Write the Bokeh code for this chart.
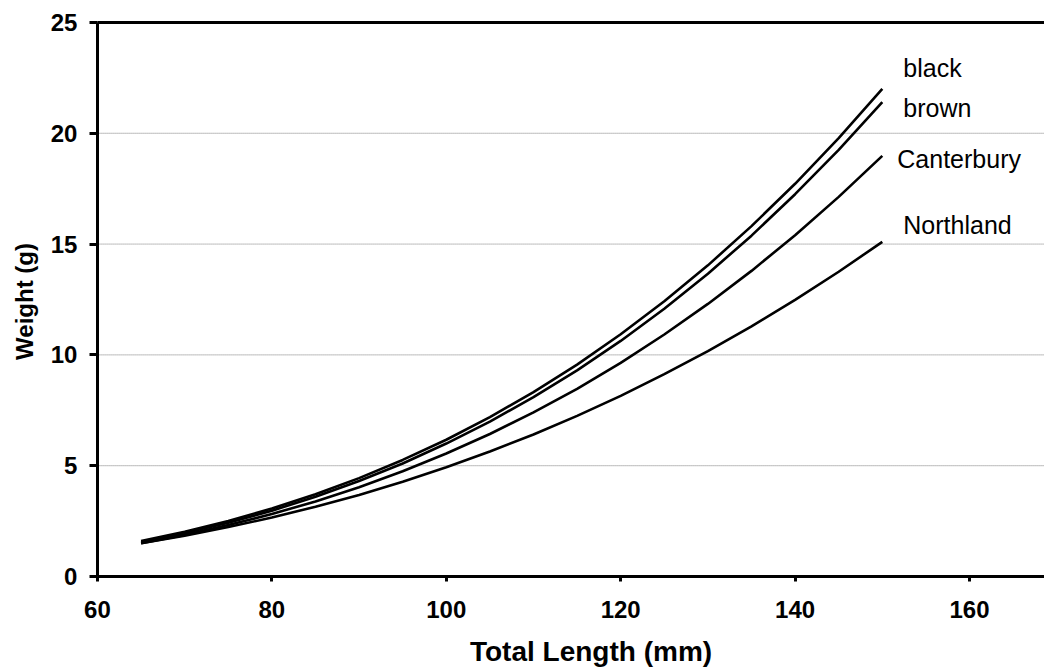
import math
from bokeh.plotting import figure
from bokeh.models import ColumnDataSource, FixedTicker, Range1d, Label, LinearAxis
from bokeh.core.properties import value
from bokeh.embed import file_html
from bokeh.resources import INLINE

# ---- data ----
length_mm = [65, 70, 75, 80, 85, 90, 95, 100, 105, 110, 115, 120, 125, 130, 135, 140, 145, 150]
black = [1.60, 2.02, 2.51, 3.07, 3.71, 4.44, 5.26, 6.17, 7.19, 8.32, 9.56, 10.93, 12.42, 14.04, 15.81, 17.72, 19.78, 22.00]
brown = [1.55, 1.96, 2.43, 2.97, 3.60, 4.31, 5.10, 6.00, 6.99, 8.09, 9.30, 10.63, 12.08, 13.66, 15.38, 17.25, 19.25, 21.41]
canterbury = [1.50, 1.88, 2.32, 2.82, 3.39, 4.03, 4.75, 5.55, 6.43, 7.41, 8.47, 9.64, 10.92, 12.30, 13.79, 15.40, 17.13, 18.98]
northland = [1.50, 1.84, 2.23, 2.66, 3.15, 3.68, 4.28, 4.93, 5.64, 6.41, 7.25, 8.15, 9.13, 10.17, 11.29, 12.48, 13.75, 15.10]
series_names = ["black", "brown", "Canterbury", "Northland"]
series_values = [black, brown, canterbury, northland]
x_ticks = [60, 80, 100, 120, 140, 160]
y_ticks = [0, 5, 10, 15, 20, 25]

FONT = "Liberation Sans"
X0, X1 = 60, 168.6      # plotted x extent
Y0, Y1 = 0, 25          # plotted y extent

# the frame fills the whole canvas; axes are pinned at x = 60 and y = 0
p = figure(width=1044, height=668, output_backend="svg", toolbar_location=None,
           x_range=Range1d(48.88, X1), y_range=Range1d(-4.15, 25.99),
           min_border_left=0, min_border_right=0, min_border_top=0, min_border_bottom=0)
p.outline_line_color = None
p.background_fill_color = "white"
p.border_fill_color = "white"
p.xgrid.grid_line_color = None
p.ygrid.grid_line_color = None

# horizontal grid lines (only across the plot area)
grid_y = y_ticks[1:-1]
p.segment(x0=[X0] * len(grid_y), x1=[X1] * len(grid_y), y0=grid_y, y1=grid_y,
          line_color="#7a7a7a", line_width=1, line_dash="1 1")

# axes
for ax in (p.xaxis[0], p.yaxis[0]):
    ax.axis_line_width = 3
    ax.axis_line_color = "black"
    ax.major_tick_line_width = 3
    ax.major_tick_line_color = "black"
    ax.major_tick_in = 0
    ax.minor_tick_line_color = None
    ax.major_label_text_font = FONT
    ax.major_label_text_font_style = "bold"
    ax.major_label_text_font_size = "24px"
    ax.major_label_text_color = "black"

p.xaxis.ticker = FixedTicker(ticks=x_ticks)
p.yaxis.ticker = FixedTicker(ticks=y_ticks)
p.xaxis.fixed_location = Y0
p.yaxis.fixed_location = X0
p.xaxis.bounds = (X0, X1)
p.yaxis.bounds = (Y0, Y1)
p.xaxis.major_tick_out = 5
p.yaxis.major_tick_out = 8
p.xaxis.major_label_standoff = 19
p.yaxis.major_label_standoff = 12

# top border line at y = 25
top = LinearAxis(fixed_location=Y1, bounds=(X0, X1), ticker=FixedTicker(ticks=[]),
                 axis_line_width=3, axis_line_color="black",
                 major_tick_line_color=None, minor_tick_line_color=None,
                 major_label_text_font_size="0px")
p.add_layout(top, "above")

# axis titles
p.add_layout(Label(x=116.6, y=-3.39, text="Total Length (mm)", text_font=FONT,
                   text_font_style="bold", text_font_size="28px", text_color="black",
                   text_align="center", text_baseline="middle"))
p.add_layout(Label(x=51.63, y=12.41, text="Weight (g)", angle=math.pi / 2, text_font=FONT,
                   text_font_style="bold", text_font_size="24px", text_color="black",
                   text_align="center", text_baseline="middle"))

# curves
for vals in series_values:
    p.line(length_mm, vals, line_color="black", line_width=2.6)

# series labels next to the curve ends
label_dx = [21, 21, 15, 21]
label_dy = [-21, 6, 3, -17]
lab_src = ColumnDataSource(dict(
    x=[length_mm[-1]] * len(series_names),
    y=[v[-1] for v in series_values],
    t=series_names, dx=label_dx, dy=label_dy))
p.text(x="x", y="y", text="t", x_offset="dx", y_offset="dy", source=lab_src,
       text_font=value(FONT), text_font_size="25px", text_color="black",
       text_baseline="middle", text_align="left")

open("out.html", "w").write(file_html(p, INLINE))
